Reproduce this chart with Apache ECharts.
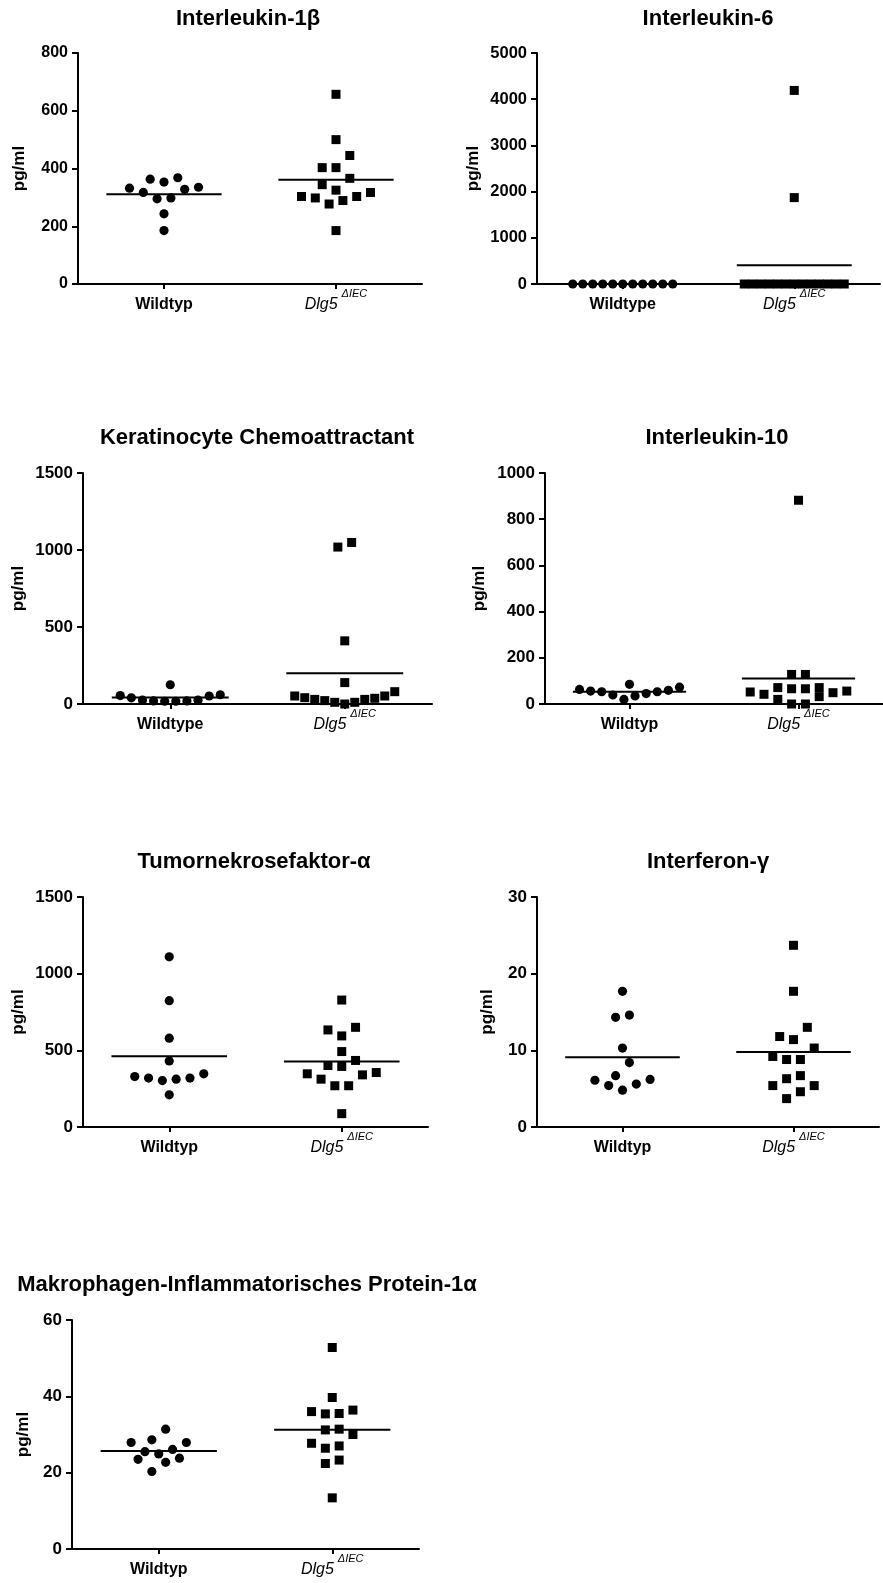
<!DOCTYPE html>
<html><head><meta charset="utf-8">
<script src="https://cdn.jsdelivr.net/npm/echarts@6/dist/echarts.min.js"></script>
<style>html,body{margin:0;padding:0;background:#fff}#c{width:883px;height:1583px}</style>
</head><body><div id="c"></div>
<script>
// ---------- data ----------
const titles = ['Interleukin-1β', 'Interleukin-6', 'Keratinocyte Chemoattractant', 'Interleukin-10',
  'Tumornekrosefaktor-α', 'Interferon-γ', 'Makrophagen-Inflammatorisches Protein-1α'];
const catsWildtyp = ['Wildtyp', 'Dlg5 ΔIEC'];
const catsWildtype = ['Wildtype', 'Dlg5 ΔIEC'];
const yName = 'pg/ml';

const il1bWT = [332, 317, 363, 295, 353, 243, 185, 298, 368, 328, 335];
const il1bKO = [657, 500, 445, 403, 403, 366, 344, 317, 303, 289, 277, 298, 303, 325, 185];
const il1bTicks = [0, 200, 400, 600, 800];

const il6WT = [0, 0, 0, 0, 0, 0, 0, 0, 0, 0, 0];
const il6KO = [4190, 1870, 0, 0, 0, 0, 0, 0, 0, 0, 0, 0, 0, 0, 0];
const il6Ticks = [0, 1000, 2000, 3000, 4000, 5000];

const kcWT = [55, 40, 25, 20, 18, 125, 18, 20, 25, 52, 60];
const kcKO = [1049, 1019, 410, 139, 80, 52, 37, 30, 11, 0, 11, 22, 30, 41, 52];
const kcTicks = [0, 500, 1000, 1500];

const il10WT = [63, 56, 53, 39, 20, 85, 35, 45, 53, 59, 73];
const il10KO = [882, 128, 128, 52, 71, 42, 66, 20, 56, 0, 66, 0, 32, 71, 49];
const il10Ticks = [0, 200, 400, 600, 800, 1000];

const tnfWT = [1110, 824, 579, 431, 347, 319, 312, 303, 319, 329, 210];
const tnfKO = [828, 650, 633, 594, 492, 434, 395, 401, 355, 340, 347, 312, 269, 269, 87];
const tnfTicks = [0, 500, 1000, 1500];

const ifnWT = [17.7, 14.6, 14.3, 10.3, 8.4, 6.2, 6.7, 6.1, 5.6, 5.4, 4.8];
const ifnKO = [23.7, 17.7, 13.0, 11.8, 11.4, 10.3, 9.2, 8.8, 8.8, 6.7, 6.3, 5.4, 5.4, 4.6, 3.7];
const ifnTicks = [0, 10, 20, 30];

const mipWT = [27.9, 28.6, 31.4, 27.9, 25.5, 24.9, 26.1, 23.5, 22.7, 23.8, 20.3];
const mipKO = [52.8, 39.7, 36.0, 35.4, 35.5, 36.4, 31.4, 31.2, 30.0, 27.7, 26.4, 27.0, 23.3, 22.4, 13.4];
const mipTicks = [0, 20, 40, 60];

// ---------- panels ----------
const panels = [
  { title: titles[0], cats: catsWildtyp, wt: il1bWT, ko: il1bKO, ticks: il1bTicks },
  { title: titles[1], cats: catsWildtype, wt: il6WT, ko: il6KO, ticks: il6Ticks },
  { title: titles[2], cats: catsWildtype, wt: kcWT, ko: kcKO, ticks: kcTicks },
  { title: titles[3], cats: catsWildtyp, wt: il10WT, ko: il10KO, ticks: il10Ticks },
  { title: titles[4], cats: catsWildtyp, wt: tnfWT, ko: tnfKO, ticks: tnfTicks },
  { title: titles[5], cats: catsWildtyp, wt: ifnWT, ko: ifnKO, ticks: ifnTicks },
  { title: titles[6], cats: catsWildtyp, wt: mipWT, ko: mipKO, ticks: mipTicks }
];
// layout (pixels)
const layout = [
  { left: 78,  top: 53,  width: 344, height: 231, tx: 248, ty: 19,   gap: 59, fs: 16 },
  { left: 537, top: 53,  width: 343, height: 231, tx: 708, ty: 19,   gap: 64, fs: 16.5 },
  { left: 83,  top: 473, width: 349, height: 231, tx: 257, ty: 438,  gap: 65, fs: 17 },
  { left: 545, top: 473, width: 346, height: 231, tx: 717, ty: 438,  gap: 66, fs: 17 },
  { left: 83,  top: 897, width: 345, height: 230, tx: 254, ty: 862,  gap: 65, fs: 17 },
  { left: 537, top: 897, width: 342, height: 230, tx: 708, ty: 862,  gap: 50, fs: 17 },
  { left: 72,  top: 1320, width: 347, height: 229, tx: 247, ty: 1285, gap: 49, fs: 17 }
];

const FONT = '"Liberation Sans", Arial, sans-serif';
const ROW_H = 13.8;   // px: points closer than this vertically share a row
const STEP = 13.8;    // px: spacing between points in a row
const ROW_W = 100;    // px: maximal row width

// column scatter layout (rows, centred, alternating outward)
function columnLayout(ys) {
  const n = ys.length;
  const idx = [...Array(n).keys()].sort((a, b) => ys[b] - ys[a]);
  const offs = new Array(n);
  let k = 0;
  while (k < n) {
    const start = ys[idx[k]];
    let m = k;
    while (m < n && start - ys[idx[m]] < ROW_H) m++;
    const row = idx.slice(k, m);
    const cnt = row.length;
    const sp = cnt > 1 ? Math.min(STEP, ROW_W / (cnt - 1)) : 0;
    row.forEach((id, r) => {
      let slot;
      if (cnt % 2 === 1) slot = r === 0 ? 0 : (r % 2 === 1 ? -1 : 1) * 2 * Math.ceil(r / 2);
      else slot = (r % 2 === 0 ? -1 : 1) * (2 * Math.floor(r / 2) + 1);
      offs[id] = slot * sp / 2;
    });
    k = m;
  }
  return offs;
}

function makeColumn(vals, cat, shape) {
  return function (params, api) {
    const pts = vals.map(v => api.coord([cat, v]));
    const offs = columnLayout(pts.map(p => p[1]));
    const i = params.dataIndex;
    const cx = pts[i][0] + offs[i], cy = pts[i][1];
    if (shape === 'circle') {
      return { type: 'circle', shape: { cx: cx, cy: cy, r: 4.6 }, style: { fill: '#000' } };
    }
    return { type: 'rect', shape: { x: cx - 4.5, y: cy - 4.5, width: 9, height: 9 }, style: { fill: '#000' } };
  };
}

function meanLine(params, api) {
  const p = api.coord([api.value(0), api.value(1)]);
  const half = api.size([1, 0])[0] * 0.335;
  return { type: 'line', shape: { x1: p[0] - half, y1: p[1], x2: p[0] + half, y2: p[1] },
    style: { stroke: '#000', lineWidth: 2 } };
}
const mean = a => a.reduce((s, v) => s + v, 0) / a.length;

const grid = [], xAxis = [], yAxis = [], series = [], graphic = [];
panels.forEach((P, i) => {
  const L = layout[i];
  grid.push({ left: L.left, top: L.top, width: L.width, height: L.height, containLabel: false });
  xAxis.push({
    gridIndex: i, type: 'category', data: P.cats, boundaryGap: true,
    axisLine: { show: true, onZero: false, lineStyle: { color: '#000', width: 2 } },
    axisTick: { show: true, alignWithLabel: true, length: 5, lineStyle: { color: '#000', width: 2 } },
    splitLine: { show: false },
    axisLabel: {
      margin: 4, interval: 0,
      formatter: v => { const s = v.split(' '); return s.length > 1 ? '{it|' + s[0] + '}{sup|' + s[1] + '}' : '{b|' + v + '}'; },
      rich: {
        b: { fontWeight: 'bold', fontSize: 16, fontFamily: FONT, color: '#000', verticalAlign: 'bottom', padding: [9, 0, 0, 0] },
        it: { fontStyle: 'italic', fontSize: 16, fontFamily: FONT, color: '#000', verticalAlign: 'bottom', padding: [9, 0, 0, 0] },
        sup: { fontStyle: 'italic', fontSize: 11, fontFamily: FONT, color: '#000', verticalAlign: 'top', padding: [0, 0, 0, 4] }
      }
    }
  });
  const t = P.ticks;
  yAxis.push({
    gridIndex: i, type: 'value', min: t[0], max: t[t.length - 1], interval: t[1] - t[0],
    axisLine: { show: true, lineStyle: { color: '#000', width: 2 } },
    axisTick: { show: true, length: 6, lineStyle: { color: '#000', width: 2 } },
    splitLine: { show: false },
    axisLabel: { color: '#000', fontWeight: 'bold', fontSize: L.fs, fontFamily: FONT, margin: 10,
      formatter: v => String(v) },
    name: yName, nameLocation: 'middle', nameRotate: 90, nameGap: L.gap - 9,
    nameTextStyle: { color: '#000', fontWeight: 'bold', fontSize: 17, fontFamily: FONT }
  });
  series.push({
    type: 'custom', coordinateSystem: 'cartesian2d', xAxisIndex: i, yAxisIndex: i,
    data: [[0, mean(P.wt)], [1, mean(P.ko)]], renderItem: meanLine, z: 2, silent: true
  });
  series.push({
    type: 'custom', coordinateSystem: 'cartesian2d', xAxisIndex: i, yAxisIndex: i,
    data: P.wt.map(v => [0, v]), renderItem: makeColumn(P.wt, 0, 'circle'), z: 3, silent: true
  });
  series.push({
    type: 'custom', coordinateSystem: 'cartesian2d', xAxisIndex: i, yAxisIndex: i,
    data: P.ko.map(v => [1, v]), renderItem: makeColumn(P.ko, 1, 'rect'), z: 3, silent: true
  });
  graphic.push({
    type: 'text', x: L.tx, y: L.ty, silent: true,
    style: { text: P.title, font: 'bold 22px ' + FONT, fill: '#000', align: 'center', verticalAlign: 'middle' }
  });
});

const chart = echarts.init(document.getElementById('c'), null, { renderer: 'canvas' });
chart.setOption({
  animation: false, backgroundColor: '#fff',
  grid: grid, xAxis: xAxis, yAxis: yAxis, series: series, graphic: graphic
});
</script></body></html>
